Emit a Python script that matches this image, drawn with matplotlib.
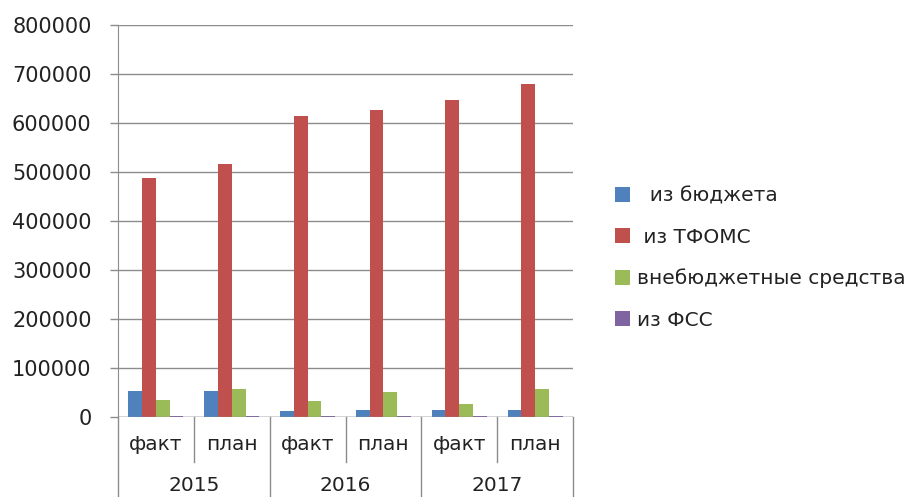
import matplotlib
matplotlib.use("Agg")
import matplotlib.pyplot as plt
import numpy as np

# data
years = ["2015", "2016", "2017"]
kinds = ["факт", "план"]
series = ["  из бюджета", " из ТФОМС", "внебюджетные средства", "из ФСС"]
budget = [53700, 53700, 11600, 13700, 13700, 13700]
tfoms = [488000, 516000, 614000, 626000, 647000, 679000]
extra = [34000, 56500, 32000, 51600, 27200, 56500]
fss = [2500, 2500, 2500, 2500, 2500, 2500]
colors = ["#4F81BD", "#C0504D", "#9BBB59", "#8064A2"]

plt.rcParams["font.family"] = ["DejaVu Sans"]
fig = plt.figure(figsize=(9.14, 4.97), dpi=100)
ax = fig.add_axes([118 / 914, 80 / 497, 455 / 914, 392 / 497])

x = np.arange(len(budget))
w = 1 / 5.5
for i, (vals, lab) in enumerate(zip([budget, tfoms, extra, fss], series)):
    ax.bar(x + (i - 1.5) * w, vals, w, color=colors[i], label=lab, zorder=3)

ax.set_xlim(-0.5, len(budget) - 0.5)
ax.set_ylim(0, 800000)
ax.set_yticks(np.arange(0, 800001, 100000))
ax.yaxis.grid(True, color="#8c8c8c", linewidth=1, zorder=0)
ax.tick_params(axis="y", length=6, width=1, color="#8c8c8c", pad=13,
               labelsize=15, labelcolor="#222222")
ax.set_xticks([])
for s in ["top", "right", "bottom"]:
    ax.spines[s].set_visible(False)
ax.spines["left"].set_color("#8c8c8c")
ax.axhline(0, color="#8c8c8c", linewidth=1, zorder=4)

trans = ax.get_xaxis_transform()
# category divider lines below axis
for b in [-0.5, 1.5, 3.5, 5.5]:
    ax.plot([b, b], [0, -0.21], transform=trans, color="#8c8c8c",
            linewidth=1, clip_on=False)
for b in [0.5, 2.5, 4.5]:
    ax.plot([b, b], [0, -0.115], transform=trans, color="#8c8c8c",
            linewidth=1, clip_on=False)
for i in x:
    ax.text(i, -0.071, kinds[i % 2], transform=trans, ha="center",
            va="center", fontsize=14.5, color="#222222")
for j, yr in enumerate(years):
    ax.text(2 * j + 0.5, -0.176, yr, transform=trans, ha="center",
            va="center", fontsize=14.5, color="#222222")

fig.legend(loc="center left", bbox_to_anchor=(615 / 914, 1 - 258 / 497),
           frameon=False, fontsize=14.5, handlelength=0.75, handleheight=0.75,
           handletextpad=0.35, labelspacing=1.1, borderpad=0,
           borderaxespad=0, labelcolor="#222222")

fig.savefig("out.png", dpi=100)
